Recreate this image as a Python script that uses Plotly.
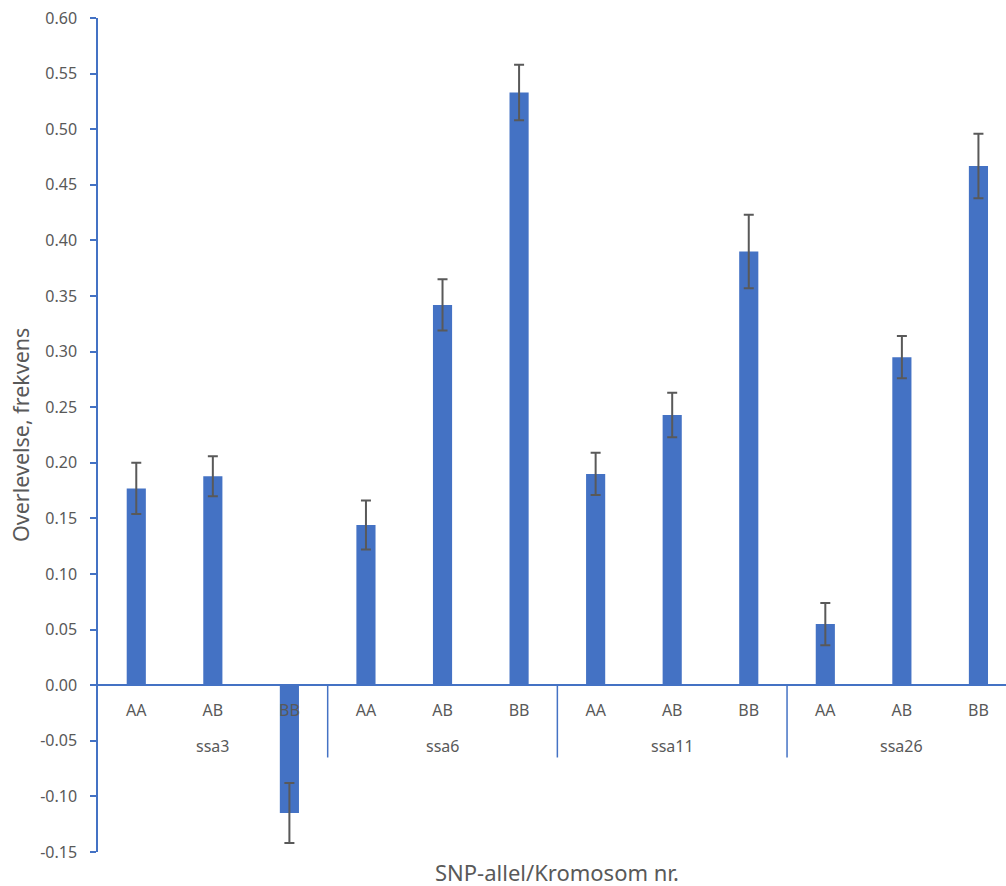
import plotly.graph_objects as go

# Survival frequency per SNP genotype, grouped by chromosome
chromosomes = ["ssa3", "ssa6", "ssa11", "ssa26"]
genotypes = ["AA", "AB", "BB"]
survival = [0.177, 0.188, -0.115,
            0.144, 0.342, 0.533,
            0.190, 0.243, 0.390,
            0.055, 0.295, 0.467]
errors = [0.023, 0.018, 0.027,
          0.022, 0.023, 0.025,
          0.019, 0.020, 0.033,
          0.019, 0.019, 0.029]
y_ticks = [-0.15, -0.10, -0.05, 0.00, 0.05, 0.10, 0.15, 0.20,
           0.25, 0.30, 0.35, 0.40, 0.45, 0.50, 0.55, 0.60]
y_tick_labels = ["-0.15", "-0.10", "-0.05", "0.00", "0.05", "0.10", "0.15", "0.20",
                 "0.25", "0.30", "0.35", "0.40", "0.45", "0.50", "0.55", "0.60"]

BLUE = "#4472C4"
GREY = "#595959"
FONT = "Noto Sans"

n_groups = len(chromosomes)
n_per = len(genotypes)
xpos = list(range(n_groups * n_per))
inner_labels = genotypes * n_groups

fig = go.Figure()
fig.add_trace(go.Bar(
    x=xpos,
    y=survival,
    width=0.25,
    marker=dict(color=BLUE, line=dict(width=0)),
    error_y=dict(type="data", array=errors, visible=True,
                 color=GREY, thickness=2, width=5),
    showlegend=False,
))

shapes = []
for g in range(1, n_groups):
    xb = g * n_per - 0.5
    shapes.append(dict(type="line", xref="x", yref="y",
                       x0=xb, x1=xb, y0=0, y1=-0.065,
                       line=dict(color=BLUE, width=1.5)))

annotations = []
for g, name in enumerate(chromosomes):
    annotations.append(dict(
        x=g * n_per + (n_per - 1) / 2, y=0, xref="x", yref="y",
        text=name, showarrow=False, yshift=-61, yanchor="middle",
        font=dict(family=FONT, size=16, color=GREY)))

annotations.append(dict(
    x=0, y=0.5, xref="paper", yref="paper", xshift=-78,
    text="Overlevelse, frekvens", textangle=-90, showarrow=False,
    xanchor="center", yanchor="middle",
    font=dict(family=FONT, size=21.5, color=GREY)))
annotations.append(dict(
    x=(n_groups * n_per - 1) / 2, y=0, xref="x", yref="paper", yshift=-20,
    text="SNP-allel/Kromosom nr.", showarrow=False,
    xanchor="center", yanchor="middle",
    font=dict(family=FONT, size=22, color=GREY)))

fig.update_layout(
    width=1006, height=886,
    margin=dict(l=98.4, r=0, t=18.3, b=33.7),
    paper_bgcolor="white", plot_bgcolor="white",
    shapes=shapes, annotations=annotations,
    xaxis=dict(
        range=[-0.5, 11.36],
        tickvals=xpos, ticktext=inner_labels,
        anchor="free", position=0.2,
        showline=True, linecolor=BLUE, linewidth=1.5,
        showgrid=False, zeroline=False, ticks="",
        ticklabelstandoff=11,
        tickfont=dict(family=FONT, size=16, color=GREY),
    ),
    yaxis=dict(
        range=[-0.15, 0.60],
        tickvals=y_ticks, ticktext=y_tick_labels,
        showline=True, linecolor=BLUE, linewidth=1.5,
        ticks="outside", ticklen=6, tickcolor=BLUE, tickwidth=1.5,
        ticklabelstandoff=10,
        showgrid=False, zeroline=False,
        tickfont=dict(family=FONT, size=16, color=GREY),
    ),
)

fig.write_html("out.html")
